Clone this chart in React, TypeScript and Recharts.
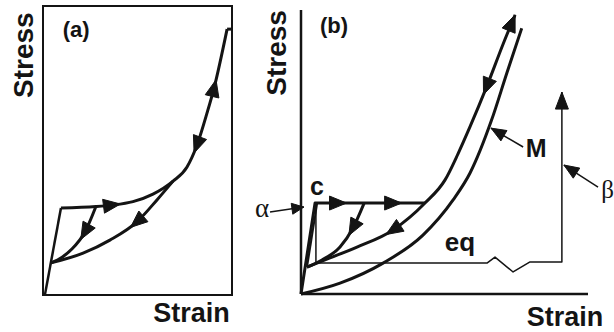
import React from 'react';
import { LineChart, Line, XAxis, YAxis, ReferenceArea, ReferenceLine, ReferenceDot } from 'recharts';

type Pt = { x: number; y: number; arrow?: 'fwd' | 'back' | 'end' };

// ---------- Panel (a) ----------
const aElastic: Pt[] = [{ x: 1, y: 0 }, { x: 9.5, y: 30.1 }];
const aLoading: Pt[] = [
  { x: 9.5, y: 30.1 }, { x: 28, y: 30.6 }, { x: 36.5, y: 31.1, arrow: 'fwd' }, { x: 47.6, y: 32.3 },
  { x: 58.2, y: 34.9 }, { x: 68.8, y: 39.4 }, { x: 76.2, y: 44.3 }, { x: 81.5, y: 51.9, arrow: 'back' },
  { x: 86.8, y: 63.0 }, { x: 90.5, y: 71.6, arrow: 'fwd' }, { x: 97.4, y: 92.0 },
];
const aTop: Pt[] = [{ x: 97.4, y: 92 }, { x: 100, y: 92 }];
const aUnloadOuter: Pt[] = [
  { x: 4.2, y: 11.1 }, { x: 21.2, y: 14.5 }, { x: 35.4, y: 19.0 }, { x: 49.7, y: 25.3, arrow: 'back' },
  { x: 60.3, y: 32.9 }, { x: 68.8, y: 39.4 },
];
const aUnloadInner: Pt[] = [
  { x: 4.2, y: 11.1 }, { x: 10.1, y: 13.1 }, { x: 15.3, y: 15.9 }, { x: 22.2, y: 21.8, arrow: 'back' }, { x: 28, y: 30.6 },
];

// ---------- Panel (b) ----------
const bElasticC: Pt[] = [
  { x: 0, y: 0 }, { x: 4.9, y: 31.8 }, { x: 12.9, y: 31.8, arrow: 'fwd' }, { x: 32.1, y: 31.8, arrow: 'fwd' }, { x: 43.2, y: 31.8 },
];
const bReload: Pt[] = [{ x: 2.1, y: 9.4 }, { x: 5.6, y: 31.6 }];
const bInner: Pt[] = [
  { x: 2.1, y: 9.4 }, { x: 10.1, y: 12.6 }, { x: 19.5, y: 16.4 }, { x: 32.1, y: 22.4, arrow: 'back' },
  { x: 43.2, y: 31.8 }, { x: 50.2, y: 39.9 }, { x: 54.7, y: 49.0 }, { x: 58.9, y: 58.5 },
  { x: 64.7, y: 72.5, arrow: 'back' }, { x: 70.5, y: 87.6 }, { x: 74.6, y: 97.6, arrow: 'end' },
];
const bBranch: Pt[] = [
  { x: 2.1, y: 9.4 }, { x: 7.3, y: 11.9 }, { x: 13.6, y: 16.4 }, { x: 18.1, y: 23.1, arrow: 'back' }, { x: 22.0, y: 31.8 },
];
const bOuterM: Pt[] = [
  { x: 0, y: 0 }, { x: 13.6, y: 3.8 }, { x: 28.6, y: 10.8 }, { x: 42.5, y: 20.6 }, { x: 53.0, y: 32.9 },
  { x: 58.9, y: 42.3 }, { x: 66.4, y: 60.8 }, { x: 71.7, y: 77.2 }, { x: 76.9, y: 92.9 },
];
const bEq: Pt[] = [
  { x: 5.2, y: 31.8 }, { x: 5.2, y: 10.8 }, { x: 64.8, y: 10.8 }, { x: 67.6, y: 12.9 }, { x: 73.9, y: 7.7 },
  { x: 79.8, y: 11.2 }, { x: 90.9, y: 11.2 }, { x: 90.9, y: 70.6, arrow: 'end' },
];
const bAlphaArrow: Pt[] = [{ x: -10.8, y: 28.7 }, { x: 1.0, y: 30.4, arrow: 'end' }];
const bBetaArrow: Pt[] = [{ x: 103.5, y: 37.4 }, { x: 91.6, y: 45.1, arrow: 'end' }];
const bMArrow: Pt[] = [{ x: 77.4, y: 51.4 }, { x: 66.2, y: 58.0, arrow: 'end' }];

// ---------- Layout ----------
const INK = '#141414';
const SANS = '"Liberation Sans", Arial, Helvetica, sans-serif';
const SERIF = '"Liberation Serif", "Times New Roman", serif';

const A = { w: 250, h: 332, left: 43, right: 18, top: 6, bottom: 37, dx: [0, 100], dy: [0, 100] };
const B = { w: 364, h: 332, left: 7.95, right: 3.04, top: 8, bottom: 38, dx: [-15, 108], dy: [0, 100] };
const kxA = (A.w - A.left - A.right) / (A.dx[1] - A.dx[0]);
const kyA = (A.h - A.top - A.bottom) / (A.dy[1] - A.dy[0]);
const kxB = (B.w - B.left - B.right) / (B.dx[1] - B.dx[0]);
const kyB = (B.h - B.top - B.bottom) / (B.dy[1] - B.dy[0]);

function arrowDot(data: Pt[], kx: number, ky: number, len = 17, half = 7) {
  return (props: any) => {
    const { cx, cy, index } = props;
    const p = data[index];
    if (!p || !p.arrow || cx == null || cy == null) return <g key={`n${index}`} />;
    const prev = data[Math.max(0, index - 1)];
    const next = data[Math.min(data.length - 1, index + 1)];
    let dx: number, dy: number;
    if (p.arrow === 'end') {
      dx = (p.x - prev.x) * kx;
      dy = -(p.y - prev.y) * ky;
    } else {
      dx = (next.x - prev.x) * kx;
      dy = -(next.y - prev.y) * ky;
      if (p.arrow === 'back') { dx = -dx; dy = -dy; }
    }
    const m = Math.hypot(dx, dy) || 1;
    const ux = dx / m, uy = dy / m;
    const tx = p.arrow === 'end' ? cx : cx + (ux * len) / 2;
    const ty = p.arrow === 'end' ? cy : cy + (uy * len) / 2;
    const bx = tx - ux * len, by = ty - uy * len;
    const nx = -uy, ny = ux;
    const pts = `${tx},${ty} ${bx + nx * half},${by + ny * half} ${bx - nx * half},${by - ny * half}`;
    return <polygon key={`a${index}`} points={pts} fill={INK} stroke={INK} strokeWidth={1} />;
  };
}

function curve(data: Pt[], kx: number, ky: number, type: 'monotone' | 'linear', width: number, key: string, len = 17, half = 7) {
  return (
    <Line
      key={key}
      data={data}
      dataKey="y"
      type={type}
      stroke={INK}
      strokeWidth={width}
      strokeLinejoin="round"
      dot={arrowDot(data, kx, ky, len, half)}
      activeDot={false}
      legendType="none"
      isAnimationActive={false}
    />
  );
}

function txt(x: number, y: number, value: string, size: number, opts: { bold?: boolean; angle?: number; serif?: boolean } = {}) {
  return (
    <ReferenceDot
      key={`t-${value}-${x}`}
      x={x}
      y={y}
      r={0}
      ifOverflow="visible"
      stroke="none"
      fill="none"
      label={{
        value,
        position: 'center',
        angle: opts.angle ?? 0,
        fontSize: size,
        fontWeight: opts.bold === false ? 400 : 700,
        fontFamily: opts.serif ? SERIF : SANS,
        fill: INK,
      }}
    />
  );
}

export default function App() {
  return (
    <div style={{ position: 'absolute', left: 0, top: 0, width: 614, height: 332, background: '#fff' }}>
      <div style={{ position: 'absolute', left: 0, top: 0 }}>
        <LineChart width={A.w} height={A.h} margin={{ left: A.left, right: A.right, top: A.top, bottom: A.bottom }}>
          <XAxis type="number" dataKey="x" domain={A.dx} hide />
          <YAxis type="number" domain={A.dy} hide />
          <ReferenceArea x1={0} x2={100} y1={0} y2={100} fill="none" fillOpacity={0} stroke={INK} strokeWidth={2} />
          {curve(aElastic, kxA, kyA, 'linear', 2.5, 'ae')}
          {curve(aLoading, kxA, kyA, 'monotone', 3, 'al')}
          {curve(aTop, kxA, kyA, 'linear', 3, 'at')}
          {curve(aUnloadOuter, kxA, kyA, 'monotone', 3, 'auo')}
          {curve(aUnloadInner, kxA, kyA, 'monotone', 3, 'aui')}
          {txt(-10.6, 83.0, 'Stress', 28, { angle: -90 })}
          {txt(17.5, 92.0, '(a)', 22)}
          {txt(78.6, -6.1, 'Strain', 27)}
        </LineChart>
      </div>
      <div style={{ position: 'absolute', left: 250, top: 0 }}>
        <LineChart width={B.w} height={B.h} margin={{ left: B.left, right: B.right, top: B.top, bottom: B.bottom }}>
          <XAxis type="number" dataKey="x" domain={B.dx} hide />
          <YAxis type="number" domain={B.dy} hide />
          <ReferenceLine segment={[{ x: 0, y: 0 }, { x: 100, y: 0 }]} stroke={INK} strokeWidth={2.5} />
          <ReferenceLine segment={[{ x: 0, y: 0 }, { x: 0, y: 99.3 }]} stroke={INK} strokeWidth={2.5} />
          {curve(bEq, kxB, kyB, 'linear', 1.5, 'beq', 17, 6.5)}
          {curve(bOuterM, kxB, kyB, 'monotone', 3, 'bm')}
          {curve(bInner, kxB, kyB, 'monotone', 3, 'bi')}
          {curve(bBranch, kxB, kyB, 'monotone', 3, 'bb')}
          {curve(bReload, kxB, kyB, 'linear', 2, 'br')}
          {curve(bElasticC, kxB, kyB, 'linear', 3, 'bc')}
          {curve(bAlphaArrow, kxB, kyB, 'linear', 1.5, 'baa', 12, 5.5)}
          {curve(bBetaArrow, kxB, kyB, 'linear', 1.5, 'bba', 15, 6)}
          {curve(bMArrow, kxB, kyB, 'linear', 1.5, 'bma', 15, 6)}
          {txt(-8.7, 84.3, 'Stress', 28, { angle: -90 })}
          {txt(11.5, 94.1, '(b)', 22)}
          {txt(92.0, -7.7, 'Strain', 27)}
          {txt(81.9, 51.0, 'M', 25)}
          {txt(5.6, 37.8, 'c', 25)}
          {txt(55.4, 18.2, 'eq', 26)}
          {txt(-13.6, 30.2, 'α', 27, { bold: false, serif: true })}
          {txt(106.8, 36.7, 'β', 25, { bold: false, serif: true })}
        </LineChart>
      </div>
    </div>
  );
}
